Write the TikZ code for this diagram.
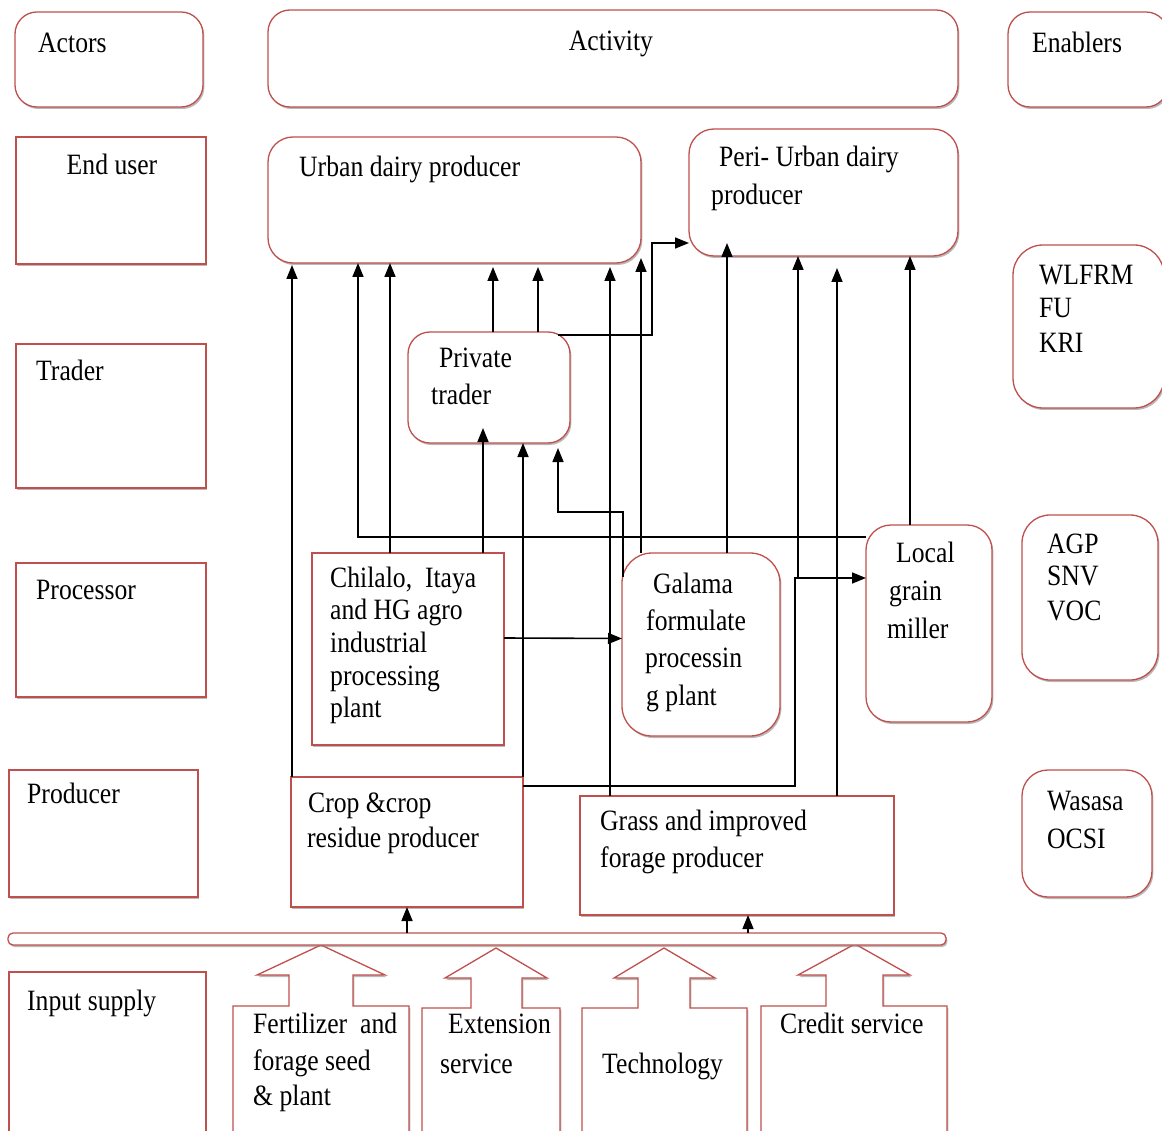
\documentclass[tikz,border=0pt]{standalone}
\usepackage{fontspec}
\newfontfamily\tfont[FakeStretch=0.87]{Liberation Serif}
\usetikzlibrary{arrows.meta,shadows}
\definecolor{boxred}{RGB}{192,80,77}
\begin{document}
\begin{tikzpicture}[x=1pt,y=-1pt,
  shd/.style={drop shadow={shadow xshift=1.4pt,shadow yshift=-2pt,fill=black!50,opacity=0.55}},
  sbox/.style={draw=boxred,line width=1.3pt,fill=white,shd,inner sep=0pt,outer sep=0pt,anchor=north west},
  rbox/.style={sbox,rounded corners=22pt},
  blk/.style={draw=boxred,line width=1.3pt,fill=white,shd,line join=miter},
  conn/.style={draw=black,line width=1.6pt,-{Triangle[length=14pt,width=11pt]}},
  lbl/.style={anchor=base west,inner sep=0pt,font=\tfont\fontsize{29.5}{35}\selectfont},
  lblc/.style={lbl,anchor=base}
]
\useasboundingbox (0,0) rectangle (1162,1131);
\fill[white] (0,0) rectangle (1162,1131);
\clip (0,0) rectangle (1162,1131);

% ---------- header row
\node[rbox,minimum width=188pt,minimum height=95pt] (actors) at (15,12) {};
\node[rbox,minimum width=690pt,minimum height=97pt] (activity) at (268,10) {};
\node[rbox,minimum width=160pt,minimum height=95pt] (enablers) at (1008,12) {};

% ---------- actors column
\node[sbox,minimum width=190pt,minimum height=127pt] (enduser) at (16,137) {};
\node[sbox,minimum width=190pt,minimum height=144pt] (trader) at (16,344) {};
\node[sbox,minimum width=190pt,minimum height=134pt] (processor) at (16,563) {};
\node[sbox,minimum width=189pt,minimum height=127pt] (producer) at (9,770) {};
\node[sbox,minimum width=197pt,minimum height=170pt] (input) at (9,972) {};

% ---------- enablers column
\node[rbox,rounded corners=30pt,minimum width=151pt,minimum height=163pt] (wlfrm) at (1013,245) {};
\node[rbox,rounded corners=28pt,minimum width=136pt,minimum height=165pt] (agp) at (1022,515) {};
\node[rbox,rounded corners=26pt,minimum width=130pt,minimum height=127pt] (wasasa) at (1022,770) {};

% ---------- activity boxes
\node[rbox,rounded corners=25pt,minimum width=373pt,minimum height=126pt] (urban) at (268,137) {};
\node[rbox,rounded corners=25pt,minimum width=269pt,minimum height=127pt] (peri) at (689,129) {};
\node[rbox,minimum width=162pt,minimum height=111pt] (private) at (408,332) {};
\node[sbox,minimum width=192pt,minimum height=192pt] (chilalo) at (312,553) {};
\node[rbox,rounded corners=30pt,minimum width=158pt,minimum height=183pt] (galama) at (622,553) {};
\node[rbox,rounded corners=25pt,minimum width=126pt,minimum height=197pt] (local) at (866,525) {};
\node[sbox,minimum width=232pt,minimum height=130pt] (crop) at (291,777) {};
\node[sbox,minimum width=314pt,minimum height=119pt] (grass) at (580,796) {};

% ---------- input block arrows
\draw[blk] (233,1140) -- (233,1006) -- (289,1006) -- (289,975) -- (257,975) -- (321,945) -- (385,975) -- (353,975) -- (353,1006) -- (409,1006) -- (409,1140) -- cycle;
\draw[blk] (422,1140) -- (422,1008) -- (471,1008) -- (471,978) -- (445,978) -- (496,948) -- (547,978) -- (522,978) -- (522,1008) -- (560,1008) -- (560,1140) -- cycle;
\draw[blk] (582,1140) -- (582,1008) -- (638,1008) -- (638,978) -- (614,978) -- (664,948) -- (715,978) -- (690,978) -- (690,1008) -- (747,1008) -- (747,1140) -- cycle;
\draw[blk] (761,1140) -- (761,1006) -- (826,1006) -- (826,975) -- (798,975) -- (855,944) -- (910,975) -- (883,975) -- (883,1006) -- (947,1006) -- (947,1140) -- cycle;

% ---------- input bar
\node[rbox,rounded corners=5pt,minimum width=938pt,minimum height=12pt] (bar) at (8,933) {};

% ---------- connectors
\coordinate (j1) at ([xshift=-71pt,yshift=-53pt]local.north west);
\coordinate (j2) at ([xshift=3pt]j1);
\coordinate (g1) at ([xshift=11pt]grass.south);

\draw[conn] ([xshift=1pt]crop.north west) -- ([xshift=24pt,yshift=-2pt]urban.south west);
\draw[conn] ([yshift=-12pt]local.north west) -| ([xshift=90pt]urban.south west);
\draw[conn] ([xshift=78pt]chilalo.north west) -- ([xshift=122pt]urban.south west);
\draw[conn] ([xshift=171pt]chilalo.north west) -- ([xshift=75pt,yshift=15pt]private.south west);
\draw[conn] ([xshift=85pt]private.north west) -- ([xshift=225pt,yshift=-4pt]urban.south west);
\draw[conn] ([xshift=130pt]private.north west) -- ([xshift=270pt,yshift=-4pt]urban.south west);
\draw[conn] ([xshift=-12pt,yshift=-3pt]private.north east) -- ++(94,0) |- ([yshift=13pt]peri.south west);
\draw[conn] (crop.north east) -- (crop.north east |- private.south);
\draw[conn] ([yshift=-9pt]crop.north east) -| (j1) -- ([yshift=-53pt]local.north west);
\draw[conn] (j2) -- (j2 |- peri.south);
\draw[conn] ([xshift=30pt]grass.north west) -- ([xshift=342pt,yshift=-4pt]urban.south west);
\draw[conn] ([xshift=257pt]grass.north west) -- ([xshift=148pt,yshift=-12pt]peri.south west);
\draw[conn] ([xshift=19pt]galama.north west) -- ([yshift=5pt]urban.south east);
\draw[conn] ([xshift=105pt]galama.north west) -- ([xshift=38pt,yshift=13pt]peri.south west);
\draw[conn] ([xshift=1pt,yshift=-24pt]galama.north west) -- ++(0,-65) -| ([xshift=150pt,yshift=-5pt]private.south west);
\draw[conn] ([yshift=11pt]chilalo.east) -- ([yshift=6pt]galama.west);
\draw[conn] ([xshift=44pt]local.north west) -- ([xshift=221pt]peri.south west);
\draw[conn] (crop.south |- bar.north) -- (crop.south);
\draw[conn] (g1 |- bar.north) -- (g1);

% ---------- texts
\node[lbl] (tActors) at (38,53) {Actors};
\node[lblc] (tActivity) at (611,51) {Activity};
\node[lbl] (tEnablers) at (1032,53) {Enablers};
\node[lblc] (tEnduser) at (112,175) {End user};
\node[lbl] (tTrader) at (36,381) {Trader};
\node[lbl] (tProcessor) at (36,599) {Processor};
\node[lbl] (tProducer) at (27,803) {Producer};
\node[lbl] (tInput) at (27,1010) {Input supply};

\node[lbl] (tUrban) at (299,177) {Urban dairy producer};
\node[lbl] (tPeriA) at (719,167) {Peri- Urban dairy};
\node[lbl] (tPeriB) at (711,205) {producer};
\node[lbl] (tPrivA) at (439,368) {Private};
\node[lbl] (tPrivB) at (431,405) {trader};

\node[lbl] (tChiA) at (330,587) {Chilalo,~~Itaya};
\node[lbl] (tChiB) at (330,619) {and HG agro};
\node[lbl] (tChiC) at (330,652) {industrial};
\node[lbl] (tChiD) at (330,685) {processing};
\node[lbl] (tChiE) at (330,717) {plant};

\node[lbl] (tGalA) at (653,593) {Galama};
\node[lbl] (tGalB) at (646,630) {formulate};
\node[lbl] (tGalC) at (645,667) {processin};
\node[lbl] (tGalD) at (646,705) {g plant};

\node[lbl] (tLocA) at (896,562) {Local};
\node[lbl] (tLocB) at (889,600) {grain};
\node[lbl] (tLocC) at (887,638) {miller};

\node[lbl] (tCropA) at (308,812) {Crop \&crop};
\node[lbl] (tCropB) at (307,847) {residue producer};
\node[lbl] (tGrassA) at (600,830) {Grass and improved};
\node[lbl] (tGrassB) at (600,867) {forage producer};

\node[lbl] (tWlA) at (1039,285) {WLFRM};
\node[lbl] (tWlB) at (1039,318) {FU};
\node[lbl] (tWlC) at (1039,353) {KRI};
\node[lbl] (tAgA) at (1047,553) {AGP};
\node[lbl] (tAgB) at (1047,585) {SNV};
\node[lbl] (tAgC) at (1047,620) {VOC};
\node[lbl] (tWaA) at (1047,810) {Wasasa};
\node[lbl] (tWaB) at (1047,848) {OCSI};

\node[lbl] (tFerA) at (253,1033) {Fertilizer~~and};
\node[lbl] (tFerB) at (253,1070) {forage seed};
\node[lbl] (tFerC) at (253,1105) {\& plant};
\node[lbl] (tExtA) at (448,1033) {Extension};
\node[lbl] (tExtB) at (440,1073) {service};
\node[lbl] (tTech) at (602,1073) {Technology};
\node[lbl] (tCred) at (780,1033) {Credit service};
\end{tikzpicture}
\end{document}
